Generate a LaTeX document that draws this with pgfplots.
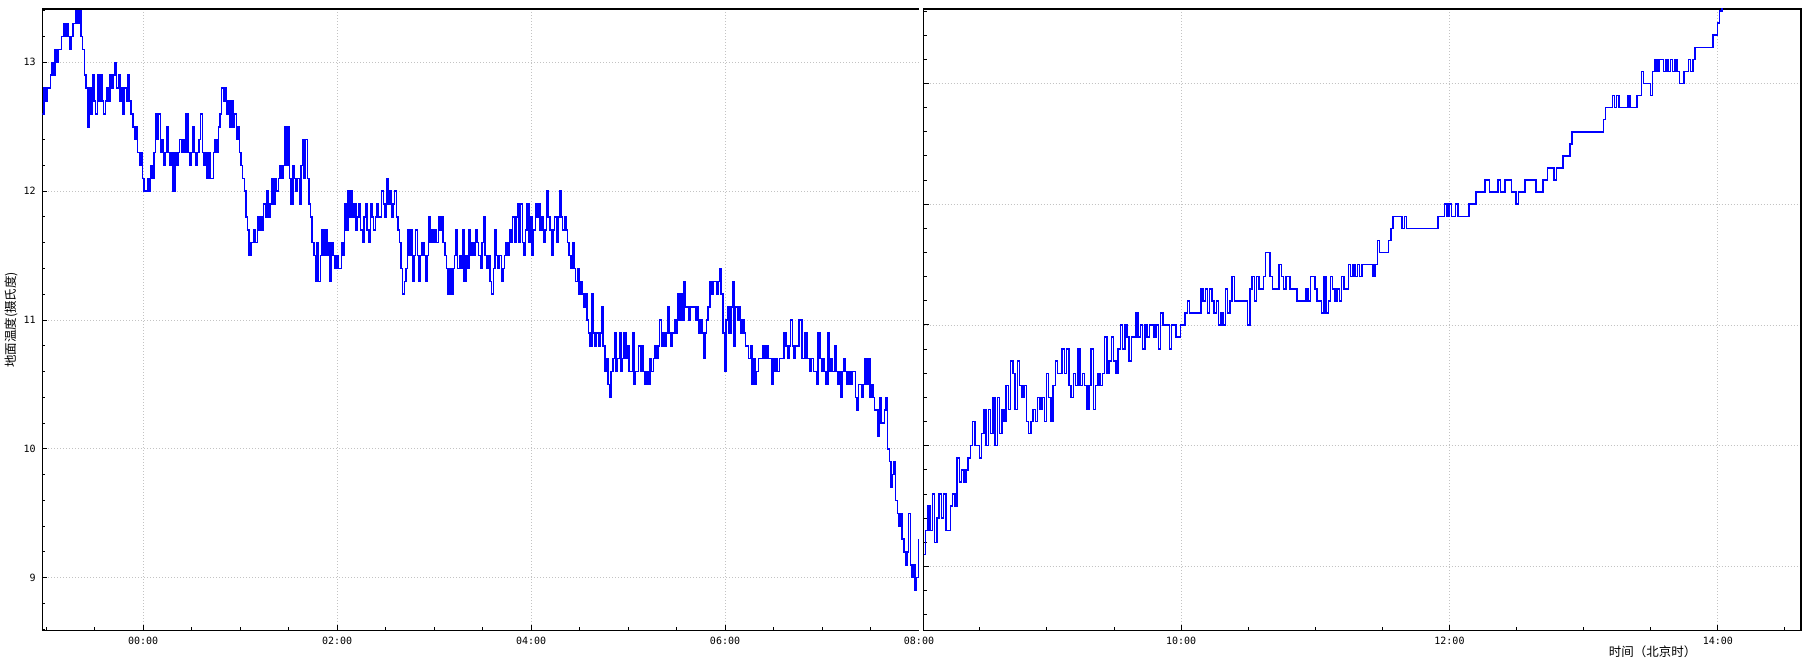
\documentclass[border=0pt]{standalone}
\usepackage{fontspec}
\usepackage{pgfplots}
\pgfplotsset{compat=1.18}
\newfontfamily\cjk{Noto Sans CJK SC}
\newfontfamily\tickfont{DejaVu Sans Mono}
\definecolor{lineblue}{RGB}{0,0,255}
\definecolor{gridgray}{RGB}{195,195,195}
\pgfplotsset{
  panel/.style={
    scale only axis,
    height=621.5pt,
    anchor=south west,
    axis line style={-, black, line width=1.4pt},
    tick style={black, line width=1pt},
    major tick length=5pt,
    minor tick length=3pt,
    tick align=inside,
    xmajorgrids, ymajorgrids,
    major grid style={gridgray, line width=0.8pt, dash pattern=on 0.8pt off 2.2pt},
    tick label style={font=\tickfont\fontsize{10}{12}\selectfont},
    ytick={9,10,11,12,13},
    minor ytick={8.6,8.8,9.2,9.4,9.6,9.8,10.2,10.4,10.6,10.8,11.2,11.4,11.6,11.8,12.2,12.4,12.6,12.8,13.2,13.4,13.6},
    xticklabel style={yshift=-3pt},
    yticklabel style={xshift=-3pt},
  },
  series/.style={lineblue, line width=1.5pt, const plot, no marks},
}
\begin{document}
\begin{tikzpicture}
\useasboundingbox (0,0) rectangle (1808pt,664pt);
\begin{axis}[panel, at={(42.3pt,33.5pt)}, width=876.7pt,
  xmin=-1.04, xmax=8, ymin=8.59, ymax=13.414,
  axis x line*=bottom, axis y line*=left,
  xtick={0,2,4,6}, xticklabels={00:00,02:00,04:00,06:00},
  minor xtick={-1,-0.5,0.5,1,1.5,2.5,3,3.5,4.5,5,5.5,6.5,7,7.5},
  extra x ticks={8}, extra x tick labels={08:00},
  extra x tick style={grid=none, major tick length=0pt},
  yticklabels={9,10,11,12,13},
  after end axis/.code={\draw[black, line width=1.4pt] (rel axis cs:0,1) -- (rel axis cs:1,1);},
]
\addplot[series] table[row sep=\\, header=false, x expr=\coordindex/60-1.04, y index=0] {
12.6\\12.8\\12.7\\12.8\\12.8\\12.9\\13.0\\12.9\\13.1\\13.0\\
13.1\\13.1\\13.2\\13.3\\13.2\\13.3\\13.2\\13.1\\13.2\\13.3\\
13.3\\13.4\\13.3\\13.4\\13.2\\13.1\\12.9\\12.8\\12.5\\12.8\\
12.6\\12.9\\12.7\\12.6\\12.9\\12.7\\12.9\\12.7\\12.6\\12.7\\
12.8\\12.7\\12.9\\12.8\\12.9\\13.0\\12.8\\12.9\\12.7\\12.8\\
12.6\\12.8\\12.7\\12.9\\12.7\\12.6\\12.5\\12.4\\12.5\\12.3\\
12.2\\12.3\\12.1\\12.0\\12.0\\12.1\\12.0\\12.2\\12.1\\12.3\\
12.6\\12.4\\12.6\\12.3\\12.4\\12.2\\12.3\\12.5\\12.3\\12.2\\
12.3\\12.0\\12.3\\12.2\\12.3\\12.4\\12.3\\12.4\\12.3\\12.6\\
12.3\\12.2\\12.3\\12.5\\12.3\\12.2\\12.3\\12.4\\12.6\\12.3\\
12.2\\12.3\\12.1\\12.3\\12.1\\12.1\\12.3\\12.4\\12.3\\12.5\\
12.6\\12.8\\12.7\\12.8\\12.6\\12.7\\12.5\\12.7\\12.5\\12.6\\
12.4\\12.5\\12.3\\12.2\\12.1\\12.0\\11.8\\11.7\\11.5\\11.6\\
11.6\\11.7\\11.6\\11.8\\11.7\\11.8\\11.7\\11.9\\11.8\\12.0\\
11.8\\11.9\\12.1\\11.9\\12.1\\12.0\\12.1\\12.2\\12.1\\12.2\\
12.5\\12.2\\12.5\\12.1\\11.9\\12.2\\12.1\\12.0\\12.1\\11.9\\
12.2\\12.4\\12.1\\12.4\\12.1\\11.9\\11.8\\11.6\\11.5\\11.3\\
11.6\\11.3\\11.5\\11.7\\11.5\\11.7\\11.5\\11.6\\11.3\\11.6\\
11.5\\11.4\\11.5\\11.4\\11.4\\11.6\\11.5\\11.9\\11.7\\12.0\\
11.8\\12.0\\11.8\\11.9\\11.7\\11.8\\11.9\\11.7\\11.6\\11.8\\
11.9\\11.7\\11.6\\11.9\\11.8\\11.7\\11.8\\11.9\\11.8\\11.8\\
12.0\\11.9\\11.8\\12.1\\11.9\\12.0\\11.8\\11.9\\12.0\\11.8\\
11.7\\11.6\\11.4\\11.2\\11.3\\11.4\\11.7\\11.5\\11.7\\11.3\\
11.5\\11.7\\11.5\\11.3\\11.5\\11.6\\11.5\\11.3\\11.5\\11.8\\
11.6\\11.7\\11.6\\11.7\\11.6\\11.8\\11.7\\11.8\\11.6\\11.5\\
11.4\\11.2\\11.4\\11.2\\11.4\\11.5\\11.7\\11.4\\11.5\\11.4\\
11.7\\11.3\\11.5\\11.4\\11.7\\11.5\\11.6\\11.5\\11.7\\11.6\\
11.5\\11.4\\11.6\\11.8\\11.5\\11.4\\11.5\\11.3\\11.2\\11.4\\
11.7\\11.5\\11.4\\11.5\\11.3\\11.4\\11.5\\11.6\\11.5\\11.7\\
11.6\\11.8\\11.6\\11.8\\11.9\\11.6\\11.9\\11.6\\11.5\\11.7\\
11.9\\11.6\\11.8\\11.5\\11.7\\11.9\\11.8\\11.9\\11.7\\11.8\\
11.6\\11.7\\12.0\\11.8\\11.7\\11.5\\11.7\\11.8\\11.6\\11.8\\
12.0\\11.8\\11.7\\11.8\\11.7\\11.6\\11.5\\11.4\\11.6\\11.4\\
11.3\\11.4\\11.2\\11.3\\11.2\\11.1\\11.2\\11.0\\10.9\\10.8\\
11.2\\10.9\\10.8\\10.9\\10.8\\10.9\\11.1\\10.8\\10.6\\10.7\\
10.5\\10.4\\10.6\\10.7\\10.9\\10.6\\10.7\\10.9\\10.6\\10.7\\
10.9\\10.7\\10.8\\10.6\\10.6\\10.9\\10.5\\10.6\\10.6\\10.8\\
10.6\\10.8\\10.6\\10.5\\10.6\\10.5\\10.7\\10.6\\10.7\\10.8\\
10.7\\10.8\\11.0\\10.8\\10.9\\10.8\\10.9\\11.1\\10.9\\10.8\\
10.9\\11.0\\10.9\\11.2\\11.0\\11.2\\11.0\\11.3\\11.1\\11.1\\
11.0\\11.1\\11.1\\11.1\\11.0\\11.1\\10.9\\11.0\\10.9\\10.7\\
10.9\\11.0\\11.1\\11.3\\11.2\\11.3\\11.3\\11.2\\11.3\\11.4\\
11.2\\10.9\\10.6\\11.0\\11.1\\10.9\\11.1\\11.3\\10.8\\11.1\\
11.0\\11.1\\10.9\\11.0\\10.9\\10.8\\10.8\\10.7\\10.8\\10.5\\
10.7\\10.5\\10.6\\10.7\\10.7\\10.7\\10.8\\10.7\\10.8\\10.7\\
10.7\\10.5\\10.7\\10.6\\10.7\\10.6\\10.7\\10.7\\10.7\\10.9\\
10.8\\10.7\\10.8\\11.0\\10.8\\10.7\\10.8\\10.8\\11.0\\11.0\\
10.7\\10.7\\10.9\\10.7\\10.7\\10.6\\10.7\\10.6\\10.6\\10.5\\
10.9\\10.7\\10.6\\10.7\\10.6\\10.5\\10.9\\10.6\\10.7\\10.6\\
10.8\\10.6\\10.5\\10.6\\10.4\\10.6\\10.7\\10.6\\10.5\\10.6\\
10.5\\10.6\\10.6\\10.4\\10.3\\10.5\\10.5\\10.4\\10.5\\10.7\\
10.5\\10.7\\10.4\\10.5\\10.4\\10.3\\10.3\\10.1\\10.4\\10.2\\
10.2\\10.3\\10.4\\10.0\\9.9\\9.7\\9.8\\9.9\\9.6\\9.5\\
9.4\\9.5\\9.3\\9.2\\9.1\\9.2\\9.5\\9.1\\9.0\\9.1\\
8.9\\9.0\\9.3\\
};
\end{axis}
\begin{axis}[panel, at={(923.5pt,33.5pt)}, width=877.5pt,
  xmin=8.08, xmax=14.62, ymin=8.47, ymax=13.617,
  axis lines=box, tick pos=left,
  xtick={10,12,14}, xticklabels={10:00,12:00,14:00},
  minor xtick={8.5,9,9.5,10.5,11,11.5,12.5,13,13.5,14.5},
  yticklabels={},
]
\addplot[series] table[row sep=\\, header=false, x expr=\coordindex/60+8.08, y index=0] {
9.1\\9.3\\9.5\\9.3\\9.6\\9.2\\9.4\\9.6\\9.4\\9.6\\
9.3\\9.3\\9.5\\9.6\\9.5\\9.9\\9.7\\9.8\\9.7\\9.8\\
9.9\\10.0\\10.2\\10.0\\10.0\\9.9\\10.1\\10.3\\10.0\\10.3\\
10.1\\10.4\\10.0\\10.4\\10.1\\10.3\\10.2\\10.5\\10.3\\10.7\\
10.6\\10.3\\10.7\\10.5\\10.4\\10.5\\10.2\\10.1\\10.2\\10.3\\
10.2\\10.4\\10.3\\10.4\\10.2\\10.6\\10.4\\10.2\\10.5\\10.7\\
10.6\\10.6\\10.8\\10.6\\10.8\\10.5\\10.4\\10.6\\10.5\\10.8\\
10.5\\10.6\\10.5\\10.3\\10.5\\10.8\\10.3\\10.5\\10.6\\10.5\\
10.6\\10.9\\10.6\\10.7\\10.9\\10.7\\10.6\\10.8\\11.0\\10.8\\
11.0\\10.9\\10.7\\10.9\\10.9\\11.1\\10.9\\11.0\\10.8\\11.0\\
10.9\\11.0\\11.0\\10.9\\11.0\\10.8\\11.1\\11.0\\11.0\\11.0\\
10.8\\11.0\\11.0\\10.9\\10.9\\11.0\\11.0\\11.1\\11.2\\11.1\\
11.1\\11.1\\11.1\\11.1\\11.3\\11.2\\11.3\\11.1\\11.3\\11.2\\
11.1\\11.2\\11.0\\11.1\\11.0\\11.3\\11.1\\11.2\\11.4\\11.2\\
11.2\\11.2\\11.2\\11.2\\11.2\\11.0\\11.3\\11.4\\11.2\\11.4\\
11.3\\11.3\\11.4\\11.6\\11.6\\11.4\\11.3\\11.3\\11.3\\11.5\\
11.4\\11.3\\11.4\\11.4\\11.3\\11.3\\11.3\\11.2\\11.2\\11.2\\
11.2\\11.3\\11.2\\11.4\\11.4\\11.3\\11.2\\11.2\\11.1\\11.4\\
11.1\\11.2\\11.4\\11.3\\11.2\\11.3\\11.2\\11.4\\11.3\\11.3\\
11.5\\11.4\\11.5\\11.4\\11.5\\11.4\\11.5\\11.5\\11.5\\11.5\\
11.5\\11.4\\11.5\\11.7\\11.6\\11.6\\11.6\\11.6\\11.7\\11.8\\
11.9\\11.9\\11.9\\11.9\\11.8\\11.9\\11.8\\11.8\\11.8\\11.8\\
11.8\\11.8\\11.8\\11.8\\11.8\\11.8\\11.8\\11.8\\11.8\\11.8\\
11.9\\11.9\\11.9\\12.0\\11.9\\12.0\\11.9\\11.9\\12.0\\11.9\\
11.9\\11.9\\11.9\\11.9\\12.0\\12.0\\12.0\\12.1\\12.1\\12.1\\
12.1\\12.2\\12.2\\12.1\\12.1\\12.1\\12.1\\12.2\\12.1\\12.1\\
12.2\\12.2\\12.2\\12.1\\12.1\\12.0\\12.1\\12.1\\12.1\\12.2\\
12.2\\12.2\\12.2\\12.2\\12.1\\12.1\\12.1\\12.2\\12.2\\12.3\\
12.3\\12.3\\12.2\\12.3\\12.3\\12.3\\12.4\\12.4\\12.4\\12.5\\
12.6\\12.6\\12.6\\12.6\\12.6\\12.6\\12.6\\12.6\\12.6\\12.6\\
12.6\\12.6\\12.6\\12.6\\12.7\\12.8\\12.8\\12.8\\12.9\\12.8\\
12.9\\12.8\\12.8\\12.8\\12.8\\12.9\\12.8\\12.8\\12.8\\12.9\\
12.9\\13.1\\13.0\\13.0\\13.0\\12.9\\13.1\\13.2\\13.1\\13.2\\
13.2\\13.1\\13.2\\13.1\\13.2\\13.1\\13.2\\13.1\\13.0\\13.0\\
13.1\\13.1\\13.2\\13.1\\13.2\\13.3\\13.3\\13.3\\13.3\\13.3\\
13.3\\13.3\\13.3\\13.4\\13.4\\13.5\\13.6\\13.7\\13.8\\
};
\end{axis}
\node[rotate=90, font=\cjk\fontsize{12.5}{14}\selectfont] at (11pt,344pt) {地面温度(摄氏度)};
\node[font=\cjk\fontsize{12.5}{14}\selectfont] at (1652.5pt,12.3pt) {时间（北京时）};
\end{tikzpicture}
\end{document}
